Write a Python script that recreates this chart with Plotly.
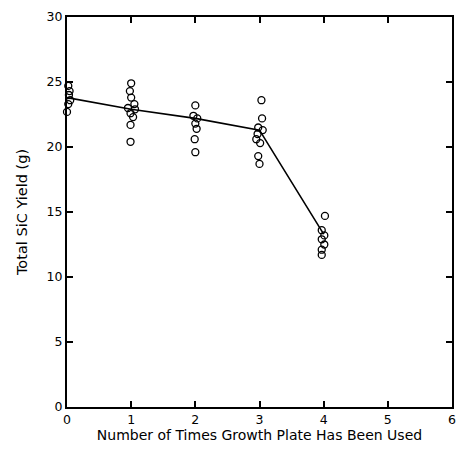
import plotly.graph_objects as go

# Observed yields (g) per number of uses, with small horizontal offsets as drawn
x0 = [-0.02, 0.02, 0.04, 0.03, 0.05, 0.02, -0.01, 0.0]
y0 = [25.3, 24.7, 24.3, 24.0, 23.6, 23.3, 23.0, 22.7]
x1 = [1.0, 0.98, 1.0, 1.05, 0.95, 1.06, 0.99, 1.03, 0.99, 0.99]
y1 = [24.9, 24.3, 23.8, 23.3, 23.0, 22.9, 22.6, 22.3, 21.7, 20.4]
x2 = [2.0, 1.97, 2.03, 2.0, 2.02, 1.99, 2.0]
y2 = [23.2, 22.4, 22.2, 21.8, 21.4, 20.6, 19.6]
x3 = [3.03, 3.04, 2.98, 3.05, 2.97, 2.95, 3.01, 2.98, 3.0]
y3 = [23.6, 22.2, 21.5, 21.3, 21.0, 20.6, 20.3, 19.3, 18.7]
x4 = [4.02, 3.97, 4.01, 3.97, 4.01, 3.97, 3.97]
y4 = [14.7, 13.6, 13.2, 12.9, 12.5, 12.1, 11.7]

# Fitted mean line
line_x = [0, 1, 2, 3, 4]
line_y = [23.8, 22.9, 22.2, 21.3, 13.3]

xticks = [0, 1, 2, 3, 4, 5, 6]
yticks = [0, 5, 10, 15, 20, 25, 30]

fig = go.Figure()
fig.add_trace(go.Scatter(x=line_x, y=line_y, mode="lines",
                         line=dict(color="black", width=1.6), showlegend=False))
for xs, ys in [(x0, y0), (x1, y1), (x2, y2), (x3, y3), (x4, y4)]:
    fig.add_trace(go.Scatter(x=xs, y=ys, mode="markers", cliponaxis=False,
                             marker=dict(symbol="circle-open", size=7,
                                         color="black", line=dict(width=1.3)),
                             showlegend=False))

fig.update_layout(
    template="none",
    width=457, height=453,
    margin=dict(l=67, r=5, t=17, b=46, autoexpand=False),
    plot_bgcolor="white", paper_bgcolor="white",
    font=dict(family="DejaVu Sans, Arial, sans-serif", size=12, color="black"),
    xaxis=dict(range=[0, 6], tickvals=xticks, ticks="inside", ticklen=6,
               tickcolor="black", tickwidth=1.5, showline=True,
               linecolor="black", linewidth=2, mirror="ticks",
               gridcolor="rgba(0,0,0,0)",
               tickfont=dict(size=12.5, color="black"),
               title=dict(text="Number of Times Growth Plate Has Been Used",
                          font=dict(size=14, color="black"), standoff=3)),
    yaxis=dict(range=[0, 30], tickvals=yticks, ticks="inside", ticklen=6,
               tickcolor="black", tickwidth=1.5, showline=True,
               linecolor="black", linewidth=2, mirror="ticks",
               gridcolor="rgba(0,0,0,0)", ticksuffix="\u00a0\u00a0",
               tickfont=dict(size=12.5, color="black"),
               title=dict(text="Total SiC Yield (g)",
                          font=dict(size=14.5, color="black"))),
)
fig.write_html("out.html", config={"displayModeBar": False},
               post_script="document.body.style.margin='0';document.body.style.overflow='hidden';")
